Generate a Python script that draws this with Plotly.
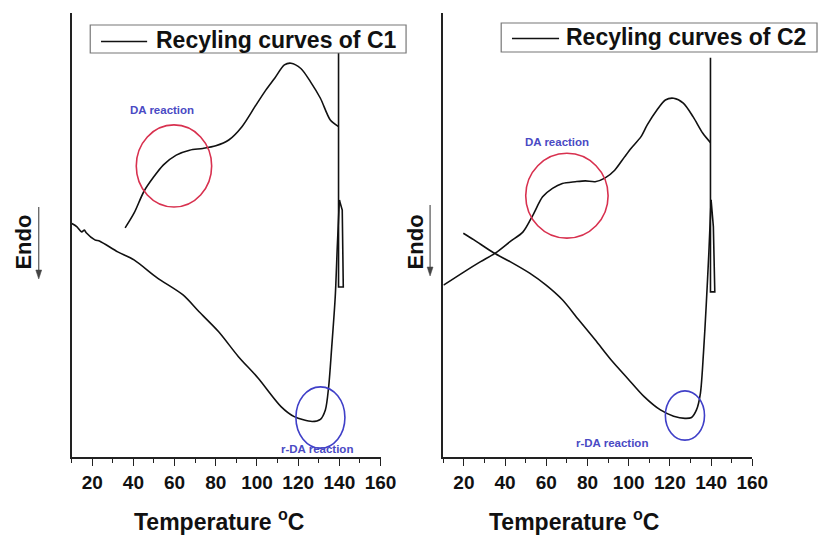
import plotly.graph_objects as go

W, H = 834, 535

# ---------------- data (Temperature in °C, heat flow in arbitrary units, endo down) -------------
# C1 : heating run (10 -> 140 °C), isothermal step at 140 °C, then cooling run (140 -> 36 °C)
c1_heat_T = [10.1, 12.5, 14.9, 16.2, 17.1, 21.3, 23.7, 32.4, 40.3, 51.4, 64.1, 71.9, 81.4, 91.0,
             100.5, 111.8, 118.1, 126.8, 130.8, 133.2, 134.8, 136.3, 138.0, 139.0, 140.0]
c1_heat_Y = [52.6, 51.9, 50.7, 51.1, 50.5, 48.9, 48.6, 46.2, 44.4, 40.4, 36.5, 32.7, 28.2, 22.6,
             17.8, 11.3, 9.1, 8.0, 8.5, 10.6, 15.8, 24.8, 36.1, 47.4, 57.9]
c1_step_T = [140.0, 141.4, 141.9, 139.6, 139.6, 139.6]
c1_step_Y = [57.9, 55.6, 38.3, 38.3, 91.0, 74.4]
c1_cool_T = [139.6, 135.6, 130.8, 126.0, 121.3, 116.5, 113.3, 108.6, 103.8, 99.0, 92.7, 86.3,
             80.0, 73.7, 67.3, 60.8, 54.6, 49.9, 45.1, 40.3, 36.0]
c1_cool_Y = [74.4, 75.9, 80.8, 84.5, 87.5, 88.7, 88.3, 85.3, 82.3, 78.9, 74.4, 71.4,
             70.1, 69.5, 69.1, 68.0, 65.8, 63.1, 59.8, 54.9, 51.6]

# C2 : heating run (20 -> 140 °C), isothermal step at 140 °C, then cooling run (140 -> 10 °C)
c2_heat_T = [19.7, 24.9, 34.4, 42.4, 51.9, 59.9, 67.8, 75.7, 83.7, 91.6, 99.5, 107.5, 115.4,
             121.8, 127.3, 130.5, 132.9, 134.8, 136.3, 137.6, 138.9, 140.0]
c2_heat_Y = [50.4, 48.9, 46.0, 44.0, 41.4, 38.7, 35.4, 30.9, 26.4, 21.8, 17.7, 13.6, 10.6,
             9.2, 8.7, 8.9, 10.6, 14.3, 23.4, 33.9, 45.9, 57.9]
c2_step_T = [140.0, 141.1, 141.8, 139.7, 139.7, 139.7]
c2_step_Y = [57.9, 51.9, 37.2, 37.2, 89.9, 70.8]
c2_cool_T = [139.7, 136.0, 131.3, 126.5, 121.8, 117.8, 113.8, 109.0, 105.9, 101.1, 98.0, 93.2,
             88.4, 83.7, 78.9, 74.1, 67.8, 63.0, 58.2, 53.5, 48.7, 42.4, 35.2, 28.1, 20.1, 10.1]
c2_cool_Y = [70.8, 72.9, 76.6, 79.7, 80.8, 80.4, 78.2, 74.8, 72.1, 69.5, 67.6, 64.6,
             62.8, 62.0, 62.2, 62.0, 61.6, 60.5, 58.6, 54.5, 50.7, 48.5, 45.9, 44.0, 41.7, 38.7]

legend_names = ["Recyling curves of C1", "Recyling curves of C2"]
x_title = "Temperature <sup>o</sup>C"
y_title = "Endo"

# highlighted regions (T range, Y range)
da_regions = [((41.4, 78.0), (56.3, 74.8)), ((50.0, 90.0), (49.3, 68.4))]
rda_regions = [((118.9, 142.7), (2.0, 15.8)), ((117.8, 136.8), (3.8, 14.9))]
da_label_pos = [(53.8, 78.2), (65.4, 71.0)]
rda_label_pos = [(129.2, 1.7), (91.9, 3.2)]

# ---------------- figure -------------
def px_x(p):
    return p / W

def px_y(p):
    return (H - p) / H

fig = go.Figure()
line_c = "#111111"
panels = [
    ("x", "y", c1_heat_T, c1_heat_Y, c1_step_T, c1_step_Y, c1_cool_T, c1_cool_Y),
    ("x2", "y2", c2_heat_T, c2_heat_Y, c2_step_T, c2_step_Y, c2_cool_T, c2_cool_Y),
]
for i, (xa, ya, hT, hY, sT, sY, cT, cY) in enumerate(panels):
    fig.add_trace(go.Scatter(x=hT, y=hY, mode="lines", name=legend_names[i],
                             line=dict(color=line_c, width=1.6, shape="spline", smoothing=0.8),
                             xaxis=xa, yaxis=ya, showlegend=False))
    fig.add_trace(go.Scatter(x=sT, y=sY, mode="lines", name=legend_names[i],
                             line=dict(color=line_c, width=1.6),
                             xaxis=xa, yaxis=ya, showlegend=False))
    fig.add_trace(go.Scatter(x=cT, y=cY, mode="lines", name=legend_names[i],
                             line=dict(color=line_c, width=1.6, shape="spline", smoothing=0.8),
                             xaxis=xa, yaxis=ya, showlegend=False))

ydom = [px_y(457), px_y(13)]
axis_font = dict(family="Liberation Sans, Arial", size=19, color="#111111", weight="bold")
xcommon = dict(range=[10, 160], tick0=0, dtick=20, ticks="outside", ticklen=7, tickwidth=1.3,
               tickcolor="#222222", showline=True, linecolor="#222222", linewidth=1.5,
               showgrid=False, zeroline=False, tickfont=axis_font, ticklabelstandoff=0,
               minor=dict(dtick=10, ticks="outside", ticklen=4, tickwidth=1.3, tickcolor="#222222",
                          showgrid=False))
ycommon = dict(range=[0, 100], showline=True, linecolor="#222222", linewidth=1.5, ticks="",
               showticklabels=False, showgrid=False, zeroline=False)

fig.update_layout(
    width=W, height=H, margin=dict(l=0, r=0, t=0, b=0),
    paper_bgcolor="white", plot_bgcolor="white", showlegend=False,
    xaxis=dict(domain=[px_x(73), px_x(388)], anchor="y", **xcommon),
    yaxis=dict(domain=ydom, anchor="x", **ycommon),
    xaxis2=dict(domain=[px_x(452), px_x(767)], anchor="y2", **xcommon),
    yaxis2=dict(domain=ydom, anchor="x2", **ycommon),
)

red = "#d8314f"
blue = "#4040c8"
label_blue = "#4a4ac4"

for i in range(2):
    xr = "x" if i == 0 else "x2"
    yr = "y" if i == 0 else "y2"
    (x0, x1), (y0, y1) = da_regions[i]
    fig.add_shape(type="circle", xref=xr, yref=yr, x0=x0, x1=x1, y0=y0, y1=y1,
                  line=dict(color=red, width=1.6))
    (x0, x1), (y0, y1) = rda_regions[i]
    fig.add_shape(type="circle", xref=xr, yref=yr, x0=x0, x1=x1, y0=y0, y1=y1,
                  line=dict(color=blue, width=1.6))
    fig.add_annotation(x=da_label_pos[i][0], y=da_label_pos[i][1], xref=xr, yref=yr,
                       text="DA reaction", showarrow=False,
                       font=dict(family="Liberation Sans, Arial", size=11.5, color=label_blue,
                                 weight="bold"))
    fig.add_annotation(x=rda_label_pos[i][0], y=rda_label_pos[i][1], xref=xr, yref=yr,
                       text="r-DA reaction", showarrow=False,
                       font=dict(family="Liberation Sans, Arial", size=11.5, color=label_blue,
                                 weight="bold"))

# legend boxes (drawn manually to match the original placement)
legend_boxes = [(92, 414, 25, 53, 103, 150, 41.5, 157, 40),
                (511, 833, 23, 52, 522, 570, 38.5, 575, 37.5)]
for i, (bx0, bx1, by0, by1, lx0, lx1, ly, tx, ty) in enumerate(legend_boxes):
    fig.add_shape(type="rect", xref="paper", yref="paper", x0=px_x(bx0), x1=px_x(bx1),
                  y0=px_y(by1), y1=px_y(by0), line=dict(color="#777777", width=1.2),
                  fillcolor="white", layer="above")
    fig.add_shape(type="line", xref="paper", yref="paper", x0=px_x(lx0), x1=px_x(lx1),
                  y0=px_y(ly), y1=px_y(ly), line=dict(color="#111111", width=1.6), layer="above")
    fig.add_annotation(x=px_x(tx), y=px_y(ty), xref="paper", yref="paper", xanchor="left",
                       yanchor="middle", text=legend_names[i], showarrow=False,
                       font=dict(family="Liberation Sans, Arial", size=23, color="#111111",
                                 weight="bold"))

# axis titles
for tx in (135, 497):
    fig.add_annotation(x=px_x(tx), y=px_y(520), xref="paper", yref="paper", xanchor="left",
                       yanchor="middle", text=x_title, showarrow=False,
                       font=dict(family="Liberation Sans, Arial", size=23, color="#111111",
                                 weight="bold"))

# "Endo" labels with downward arrows (shaft + triangular head drawn as shapes)
for cx, ax_x, a_top, a_bot in ((23, 39.5, 207, 279), (423.5, 438.5, 205, 276)):
    fig.add_annotation(x=px_x(cx), y=px_y(242), xref="paper", yref="paper", text=y_title,
                       textangle=-90, showarrow=False, xanchor="center", yanchor="middle",
                       font=dict(family="Liberation Sans, Arial", size=22, color="#111111",
                                 weight="bold"))
    fig.add_shape(type="line", xref="paper", yref="paper", x0=px_x(ax_x), x1=px_x(ax_x),
                  y0=px_y(a_top), y1=px_y(a_bot - 6), line=dict(color="#555555", width=1.2))
    fig.add_shape(type="path", xref="paper", yref="paper",
                  path=(f"M{px_x(ax_x - 3)},{px_y(a_bot - 9)} L{px_x(ax_x + 3)},{px_y(a_bot - 9)} "
                        f"L{px_x(ax_x)},{px_y(a_bot)} Z"),
                  fillcolor="#444444", line=dict(color="#444444", width=0.5))

fig.write_html("out.html")
